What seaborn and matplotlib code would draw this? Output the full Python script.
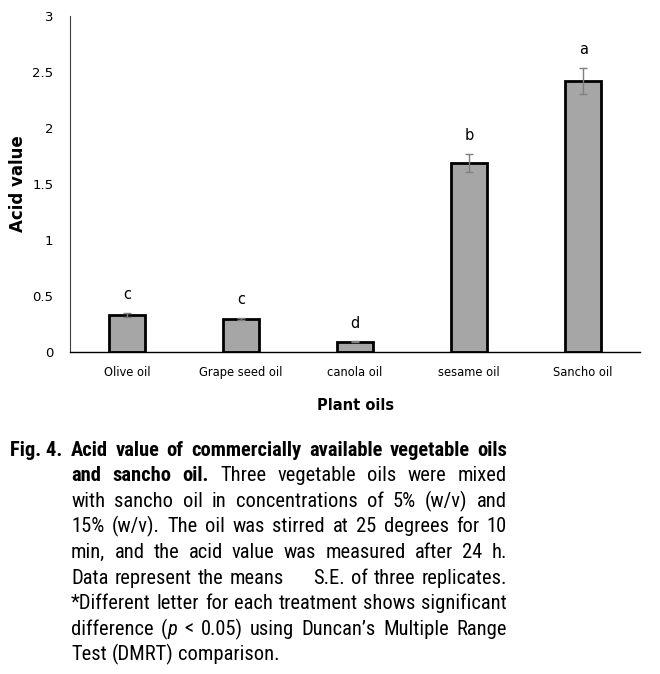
import numpy as np
import pandas as pd
import seaborn as sns
import matplotlib.pyplot as plt
from matplotlib import font_manager

# Data
oils = ['Olive oil', 'Grape seed oil', 'canola oil', 'sesame oil', 'Sancho oil']
acid = [0.33, 0.295, 0.09, 1.69, 2.42]
se = [0.02, 0.01, 0.005, 0.08, 0.12]
letters = ['c', 'c', 'd', 'b', 'a']
yticks = [0, 0.5, 1, 1.5, 2, 2.5, 3]
ytick_labels = ['0', '0.5', '1', '1.5', '2', '2.5', '3']

df = pd.DataFrame({'oil': oils, 'acid': acid})

sns.set_style('white')
plt.rcParams['font.family'] = ['DejaVu Sans']
plt.rcParams['text.color'] = 'black'
plt.rcParams['axes.labelcolor'] = 'black'

fig = plt.figure(figsize=(6.6, 6.74), dpi=100)
ax = fig.add_axes([0.106, 0.478, 0.864, 0.498])

sns.barplot(data=df, x='oil', y='acid', color='#a6a6a6', saturation=1,
            edgecolor='black', linewidth=2, width=0.32, errorbar=None, ax=ax)
ax.errorbar(range(len(oils)), acid, yerr=se, fmt='none', ecolor='#7f7f7f',
            elinewidth=1, capsize=3, capthick=1)

for i, (v, e, l) in enumerate(zip(acid, se, letters)):
    ax.text(i, v + e + 0.16, l, ha='center', va='center', fontsize=10.5)

ax.set_xlim(-0.5, len(oils) - 0.5)
ax.set_ylim(0, 3)
ax.set_yticks(yticks)
ax.set_yticklabels(ytick_labels)
ax.tick_params(axis='both', length=0, colors='black')
ax.tick_params(axis='y', pad=12, labelsize=9.5)
ax.tick_params(axis='x', pad=10, labelsize=8.3)
sns.despine(ax=ax)
ax.spines['left'].set_color('#404040')
ax.spines['left'].set_linewidth(0.8)
ax.spines['bottom'].set_color('black')
ax.spines['bottom'].set_linewidth(1)

ax.set_ylabel('Acid value', fontsize=12, fontweight='bold', labelpad=4)
ax.set_xlabel('Plant oils', fontsize=10.5, fontweight='bold', labelpad=14)

# Caption, justified word by word
names = {f.name for f in font_manager.fontManager.ttflist}
cap_font = 'DejaVu Sans'
for cand in ['Liberation Sans Narrow', 'Roboto Condensed', 'Roboto']:
    if cand in names:
        cap_font = cand
        break

caption = [
    [('Acid value of commercially available vegetable oils', True)],
    [('and sancho oil.', True), (' Three vegetable oils were mixed', False)],
    [('with sancho oil in concentrations of 5% (w/v) and', False)],
    [('15% (w/v). The oil was stirred at 25 degrees for 10', False)],
    [('min, and the acid value was measured after 24 h.', False)],
    [('Data represent the means \u2003 S.E. of three replicates.', False)],
    [('*Different letter for each treatment shows significant', False)],
    [('difference (', False), ('p', 'italic'), (' < 0.05) using Duncan\u2019s Multiple Range', False)],
    [('Test (DMRT) comparison.', False)],
]

W, H = fig.get_size_inches() * fig.dpi
left_px, right_px = 71, 507
top_px, step_px = 450, 25.6
renderer = fig.canvas.get_renderer()

# pick the largest size at which the widest line still fits
cap_size = 17.0
while cap_size > 8:
    widest = 0
    for line in caption:
        w = 0
        for chunk, style in line:
            t = fig.text(0, 0, chunk, fontsize=cap_size, family=cap_font,
                         fontweight='bold' if style is True else 'normal')
            w += t.get_window_extent(renderer).width
            t.remove()
        widest = max(widest, w)
    if widest <= (right_px - left_px) * 0.995:
        break
    cap_size -= 0.25

fig.text(10 / W, 1 - top_px / H, 'Fig. 4.', fontsize=cap_size, fontweight='bold',
         family=cap_font, va='center', ha='left')

t1 = fig.text(0, 0, 'a b', fontsize=cap_size, family=cap_font)
t2 = fig.text(0, 0, 'ab', fontsize=cap_size, family=cap_font)
space = t1.get_window_extent(renderer).width - t2.get_window_extent(renderer).width
t1.remove()
t2.remove()


def make_words(line):
    words = []
    for chunk, style in line:
        parts = chunk.split(' ')
        for j, p in enumerate(parts):
            if p == '':
                continue
            glue = (j == 0 and not chunk.startswith(' ') and words != [])
            words.append((p, style, glue))
    return words


for k, line in enumerate(caption):
    y = 1 - (top_px + k * step_px) / H
    groups = []
    for w, style, glue in make_words(line):
        if glue and groups:
            groups[-1].append((w, style))
        else:
            groups.append([(w, style)])
    objs, widths = [], []
    for g in groups:
        gobjs, gw = [], 0
        for w, style in g:
            t = fig.text(0, y, w, fontsize=cap_size, family=cap_font, va='center', ha='left',
                         fontweight='bold' if style is True else 'normal',
                         fontstyle='italic' if style == 'italic' else 'normal')
            bw = t.get_window_extent(renderer).width
            gobjs.append((t, bw))
            gw += bw
        objs.append(gobjs)
        widths.append(gw)
    if k < len(caption) - 1 and len(groups) > 1:
        gap = (right_px - left_px - sum(widths)) / (len(groups) - 1)
    else:
        gap = space
    x = left_px
    for gobjs, gw in zip(objs, widths):
        xx = x
        for t, bw in gobjs:
            t.set_x(xx / W)
            xx += bw
        x += gw + gap

fig.savefig('out.png', dpi=100)
